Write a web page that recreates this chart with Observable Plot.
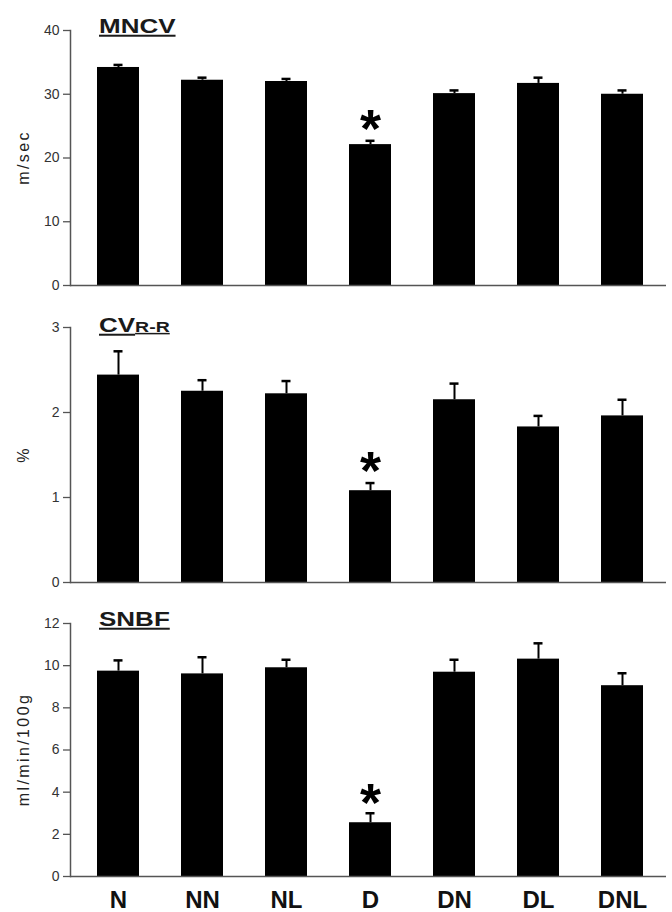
<!DOCTYPE html>
<html><head><meta charset="utf-8">
<script src="https://cdn.jsdelivr.net/npm/d3@7"></script>
<script src="https://cdn.jsdelivr.net/npm/@observablehq/plot@0.6"></script>
<style>
body{margin:0;background:#fff;}
#chart{width:672px;}
#chart svg{display:block;}
</style></head><body><div id="chart"></div>
<script>
const groups = ["N","NN","NL","D","DN","DL","DNL"];
const significant = ["D"];

const mncvMean = [34.2, 32.2, 32.0, 22.1, 30.1, 31.7, 30.0];
const mncvErr  = [0.4, 0.4, 0.4, 0.6, 0.5, 0.9, 0.6];
const mncvTicks = [0, 10, 20, 30, 40];

const cvMean = [2.44, 2.25, 2.22, 1.08, 2.15, 1.83, 1.96];
const cvErr  = [0.28, 0.13, 0.15, 0.09, 0.19, 0.13, 0.19];
const cvTicks = [0, 1, 2, 3];

const snbfMean = [9.74, 9.61, 9.90, 2.55, 9.69, 10.31, 9.05];
const snbfErr  = [0.51, 0.79, 0.38, 0.45, 0.59, 0.75, 0.59];
const snbfTicks = [0, 2, 4, 6, 8, 10, 12];

const FONT = "'Liberation Sans', Arial, Helvetica, sans-serif";

function panel(opt) {
  const data = groups.map((g, i) => ({
    group: g, mean: opt.mean[i], hi: opt.mean[i] + opt.err[i], sig: significant.includes(g)
  }));
  const marks = [
    Plot.barY(data, {x: "group", y: "mean", fill: "#000"}),
    Plot.ruleX(data, {x: "group", y1: "mean", y2: "hi", stroke: "#000", strokeWidth: 2}),
    Plot.tickY(data, {x: "group", y: "hi", stroke: "#000", strokeWidth: 2.5, insetLeft: 16.5, insetRight: 16.5}),
    Plot.text(data.filter(d => d.sig), {x: "group", y: "hi", text: () => "*", fontSize: 54, fontWeight: "bold",
      fontFamily: FONT, lineAnchor: "bottom", dy: opt.astDy, fill: "#000"}),
    Plot.axisY({ticks: opt.ticks, tickSize: 7, tickPadding: 4, fontSize: 14, fontFamily: FONT,
      stroke: "#555", fill: "#333", strokeWidth: 1.3, label: null, tickFormat: d => String(d)}),
    Plot.ruleY([0], {stroke: "#555", strokeWidth: 1.5}),
    Plot.frame({anchor: "left", stroke: "#555", strokeWidth: 1.5})
  ];
  if (opt.showX) marks.push(Plot.axisX({tickSize: 0, tickPadding: 14, fontSize: 24, fontWeight: "bold",
    fontFamily: FONT, fill: "#111", label: null}));
  const chart = Plot.plot({
    width: 672, height: opt.height,
    marginLeft: 70, marginRight: 6, marginTop: opt.mt, marginBottom: opt.mb,
    style: {background: "#fff", fontFamily: FONT},
    x: {type: "band", domain: groups, range: [74, 666], paddingInner: 0.5, paddingOuter: 0.25,
        axis: opt.showX ? undefined : null},
    y: {domain: opt.domain},
    marks
  });
  const svg = d3.select(chart);
  const y = chart.scale("y");
  const yc = (y.apply(opt.domain[0]) + y.apply(opt.domain[1])) / 2;
  svg.append("text")
    .attr("transform", `translate(29,${yc}) rotate(-90)`)
    .attr("text-anchor", "middle")
    .attr("font-family", FONT).attr("font-size", 16)
    .style("letter-spacing", "2.4px")
    .attr("fill", "#222")
    .text(opt.ylabel);
  const t = svg.append("text")
    .attr("transform", `translate(99,${opt.titleY}) scale(1.3,1)`)
    .attr("text-anchor", "start")
    .attr("font-family", FONT).attr("font-size", 20).attr("font-weight", "bold")
    .attr("fill", "#1a1a1a")
    .style("text-decoration", "underline");
  t.append("tspan").text(opt.title);
  if (opt.sub) t.append("tspan").attr("font-size", 15).text(opt.sub);
  return chart;
}

const root = document.getElementById("chart");
root.append(panel({mean: mncvMean, err: mncvErr, domain: [0, 40], ticks: mncvTicks, title: "MNCV",
  ylabel: "m/sec", height: 297, mt: 30, mb: 12, titleY: 33, astDy: 6}));
root.append(panel({mean: cvMean, err: cvErr, domain: [0, 3], ticks: cvTicks, title: "CV", sub: "R-R",
  ylabel: "%", height: 297, mt: 30, mb: 12, titleY: 35, astDy: 6}));
root.append(panel({mean: snbfMean, err: snbfErr, domain: [0, 12], ticks: snbfTicks, title: "SNBF",
  ylabel: "ml/min/100g", height: 318, mt: 29, mb: 36, titleY: 32, astDy: 8, showX: true}));
</script></body></html>
